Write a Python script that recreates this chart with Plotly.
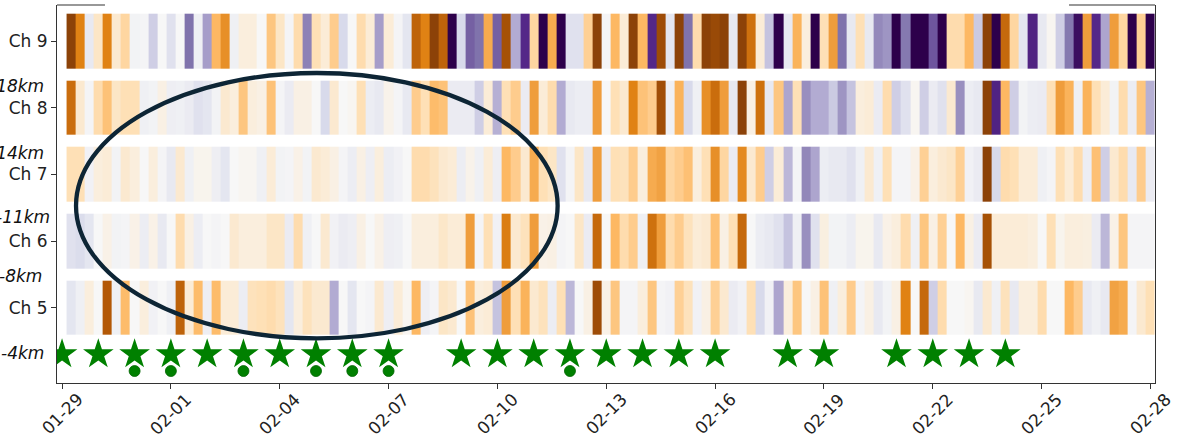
import pandas as pd
import plotly.graph_objects as go

# 6-hourly anomaly index per channel (negative = orange, positive = purple)
ch9 = [-0.95, -0.6, 0.1, -0.15, -0.6, -0.12, -0.25, 0.03, 0.02, 0.25, 0.0, 0.15, 0.0, 0.6, 0.05, 0.45, -0.4, -0.55, 0.05, -0.08, -0.08, 0.0, -0.33, -0.15, 0.02, -0.22, 0.55, -0.2, -0.1, -0.3,
       0.2, 0.0, -0.22, -0.1, 0.45, -0.1, 0.02, 0.12, -0.75, -0.6, -0.95, -0.75, 1.0, 0.2, 0.65, 0.6, -0.45, 0.65, -0.85, 0.4, 0.8, -0.25, 1.0, -0.45, 1.0, 0.15, 0.15, -0.28, -0.95, 0.02,
       -0.4, -0.1, -0.95, -0.4, 0.8, -0.88, 0.12, -0.95, 0.6, -0.22, -0.95, -0.9, -0.95, 0.1, -0.95, -0.68, -0.1, 0.3, 1.0, 0.1, -0.42, -0.08, 1.0, -0.2, -0.5, 0.6, 0.1, -0.2, 0.1, 0.52,
       0.48, 1.0, 0.58, 1.0, 1.0, 0.68, 1.0, -0.22, -0.22, -0.4, 0.27, -0.95, 1.0, -0.72, -0.25, 0.12, 0.82, 0.1, -0.02, 0.25, 0.58, 0.93, -0.5, 0.8, 0.42, -0.5, -0.25, 1.0, -0.28, 1.0]
ch8 = [-0.7, -0.12, 0.02, -0.22, -0.35, -0.15, -0.2, -0.2, 0.05, 0.03, -0.06, 0.06, 0.05, 0.08, 0.15, 0.12, 0.03, -0.12, -0.08, -0.33, -0.08, -0.06, -0.35, 0.02, 0.08, -0.06, -0.06, 0.0, 0.2, -0.12,
       0.0, -0.02, -0.2, 0.07, 0.1, -0.04, 0.02, 0.1, -0.3, -0.2, -0.38, -0.35, 0.08, 0.08, 0.08, 0.25, -0.1, 0.38, -0.2, -0.3, 0.08, -0.5, -0.1, -0.22, 0.4, 0.1, 0.07, 0.07, -0.5, 0.0,
       -0.2, -0.12, -0.6, -0.35, -0.3, -0.87, 0.05, -0.42, 0.2, 0.05, -0.55, -0.7, -0.5, 0.1, -0.95, -0.06, -0.68, 0.1, -0.33, 0.42, -0.2, 0.5, 0.4, 0.4, 0.27, 0.48, 0.3, -0.08, -0.1, 0.08,
       -0.22, 0.25, 0.15, -0.02, 0.25, 0.08, 0.15, -0.12, 0.5, 0.07, 0.1, -0.95, 0.82, -0.4, 0.25, 0.03, 0.07, 0.08, -0.2, -0.5, -0.42, 0.05, -0.42, -0.2, -0.1, 0.03, -0.22, 0.07, -0.33, 0.38]
ch7 = [-0.2, -0.2, 0.04, -0.08, -0.1, 0.03, -0.12, -0.08, 0.0, -0.08, 0.02, 0.1, -0.12, 0.05, -0.03, -0.03, 0.06, 0.12, 0.0, -0.02, -0.02, 0.05, -0.1, 0.03, 0.02, -0.05, 0.03, -0.12, -0.1, -0.06,
       0.02, 0.07, -0.06, 0.06, -0.08, 0.07, 0.04, 0.0, -0.22, -0.22, -0.18, -0.12, -0.1, 0.07, -0.04, 0.05, -0.1, 0.06, -0.4, -0.3, -0.12, -0.45, -0.2, -0.15, 0.15, 0.02, -0.15, 0.1, -0.5, 0.06,
       -0.2, -0.18, -0.3, -0.08, -0.45, -0.48, -0.25, -0.3, -0.36, -0.08, -0.2, -0.55, -0.25, 0.08, -0.57, -0.12, -0.3, 0.25, -0.1, 0.35, 0.02, 0.53, 0.42, 0.07, 0.1, 0.1, 0.15, 0.05, -0.12, 0.05,
       -0.2, 0.02, 0.02, -0.05, -0.28, -0.08, -0.12, -0.15, -0.28, 0.04, 0.08, -0.95, 0.2, -0.22, -0.2, -0.1, -0.1, 0.05, 0.02, -0.2, -0.1, -0.22, 0.07, -0.36, 0.25, -0.12, -0.22, 0.1, -0.3, 0.08]
ch6 = [0.15, 0.18, 0.12, 0.0, -0.05, 0.03, 0.02, -0.05, 0.07, -0.05, 0.1, 0.0, -0.22, -0.06, 0.07, 0.0, 0.02, 0.0, -0.12, -0.08, -0.08, -0.08, -0.15, -0.15, 0.08, -0.22, 0.05, 0.0, -0.12, 0.04,
       0.08, 0.06, -0.06, 0.0, -0.05, 0.06, 0.05, 0.0, -0.08, -0.08, -0.08, -0.14, -0.1, -0.1, -0.5, 0.02, -0.2, 0.04, -0.62, -0.12, -0.18, -0.5, -0.05, -0.06, 0.02, 0.0, -0.15, 0.08, -0.72, 0.0,
       -0.4, -0.22, -0.3, 0.05, -0.68, -0.5, -0.22, -0.3, -0.18, -0.1, -0.12, -0.36, -0.06, -0.2, -0.72, 0.0, 0.07, 0.1, 0.15, 0.3, 0.05, 0.5, 0.15, -0.07, 0.03, 0.03, 0.07, -0.03, -0.03, 0.1,
       -0.05, -0.08, -0.22, 0.05, -0.33, -0.06, -0.28, 0.0, -0.4, -0.06, 0.08, -0.85, -0.1, -0.1, -0.1, -0.1, -0.08, 0.0, -0.2, -0.03, -0.08, -0.08, -0.07, 0.08, 0.35, -0.05, -0.33, 0.02, 0.02, 0.02]
ch5 = [0.12, 0.05, -0.08, 0.0, -0.8, 0.05, -0.38, 0.0, -0.08, 0.04, 0.0, 0.05, -0.75, -0.1, -0.38, 0.06, -0.38, -0.1, -0.1, 0.07, -0.18, -0.2, -0.22, -0.18, 0.12, -0.08, -0.18, -0.12, -0.12, 0.4,
       0.0, 0.12, 0.0, 0.02, -0.12, 0.06, -0.1, -0.02, -0.4, 0.06, 0.02, -0.15, -0.12, 0.0, -0.35, -0.08, -0.1, 0.3, -0.5, -0.2, -0.42, -0.12, -0.18, 0.07, -0.2, 0.35, 0.0, -0.06, -0.88, -0.05,
       -0.33, 0.02, 0.02, -0.08, -0.33, 0.02, 0.04, -0.28, -0.18, 0.04, -0.06, -0.28, -0.12, 0.08, 0.04, -0.2, 0.2, 0.04, 0.42, -0.08, -0.33, 0.0, -0.06, -0.35, 0.05, -0.08, -0.3, 0.02, -0.06, 0.1,
       0.03, -0.06, -0.6, 0.0, -0.72, 0.25, -0.22, 0.0, 0.0, -0.02, 0.1, -0.12, 0.05, -0.18, 0.1, -0.08, -0.08, -0.22, 0.0, 0.0, -0.4, -0.3, 0.1, 0.05, 0.1, -0.48, -0.45, 0.02, -0.12, -0.2]

channels = [5, 6, 7, 8, 9]
channel_labels = ["Ch 5", "Ch 6", "Ch 7", "Ch 8", "Ch 9"]

# Daily event markers
star_days = ["01-29", "01-30", "01-31", "02-01", "02-02", "02-03", "02-04", "02-05", "02-06", "02-07",
             "02-09", "02-10", "02-11", "02-12", "02-13", "02-14", "02-15", "02-16",
             "02-18", "02-19", "02-21", "02-22", "02-23", "02-24"]
dot_days = ["01-31", "02-01", "02-03", "02-05", "02-06", "02-07", "02-12"]

# Depth labels on the left margin
depth_labels = ["-18km", "-14km", "-11km", "-8km", "-4km"]
depth_y = [8.32, 7.32, 6.36, 5.47, 4.32]
depth_shift = [-11, -11, -5, -13, -11]

tick_days = ["01-29", "02-01", "02-04", "02-07", "02-10", "02-13", "02-16", "02-19", "02-22", "02-25", "02-28"]

YEAR = "2021"
times = pd.date_range(f"{YEAR}-01-29 06:00", periods=len(ch9), freq="6h")

puor = [[0.0, "#7f3b08"], [0.1, "#b35806"], [0.2, "#e08214"], [0.3, "#fdb863"],
        [0.4, "#fee0b6"], [0.5, "#f7f7f7"], [0.6, "#d8daeb"], [0.7, "#b2abd2"],
        [0.8, "#8073ac"], [0.9, "#542788"], [1.0, "#2d004b"]]

fig = go.Figure()
fig.add_trace(go.Heatmap(
    x=times, y=channels, z=[ch5, ch6, ch7, ch8, ch9],
    colorscale=puor, zmin=-1, zmax=1, showscale=False,
    ygap=12, hoverinfo="skip",
))

fig.add_trace(go.Scatter(
    x=pd.to_datetime([f"{YEAR}-{d}" for d in star_days]), y=[4.30] * len(star_days),
    mode="markers", marker=dict(symbol="star", size=23, color="#008000", line=dict(width=0)),
    showlegend=False, hoverinfo="skip",
))
fig.add_trace(go.Scatter(
    x=pd.to_datetime([f"{YEAR}-{d}" for d in dot_days]), y=[4.05] * len(dot_days),
    mode="markers", marker=dict(symbol="circle", size=11, color="#008000", line=dict(width=0.8, color="#006400")),
    showlegend=False, hoverinfo="skip",
))

tick_dates = [f"{YEAR}-{d}" for d in tick_days]

fig.update_layout(
    width=1178, height=440,
    margin=dict(l=57, r=23, t=5, b=57),
    paper_bgcolor="white", plot_bgcolor="white",
    font=dict(family="DejaVu Sans", color="#222222"),
    showlegend=False,
    xaxis=dict(
        type="date", range=[f"{YEAR}-01-28 20:40", f"{YEAR}-02-28 03:00"],
        tickvals=tick_dates, showticklabels=False,
        ticks="outside", ticklen=5, tickcolor="#333333",
        showline=True, linecolor="#333333", linewidth=1.2,
        showgrid=False, zeroline=False,
    ),
    yaxis=dict(
        range=[3.87, 9.54], tickvals=channels, ticktext=channel_labels,
        tickfont=dict(size=17, color="#222222"),
        ticks="outside", ticklen=5, tickcolor="#333333",
        showline=True, mirror=True, linecolor="#333333", linewidth=1.2,
        showgrid=False, zeroline=False,
    ),
)

# Rotated date labels centred under each tick
for d, lab in zip(tick_dates, tick_days):
    fig.add_annotation(x=d, y=0, xref="x", yref="paper", text=lab, showarrow=False,
                       textangle=-45, xanchor="center", yanchor="top", yshift=-4,
                       font=dict(size=17, color="#222222"))

# Depth labels
for lab, yy, sh in zip(depth_labels, depth_y, depth_shift):
    fig.add_annotation(x=0, y=yy, xref="paper", yref="y", text=f"<i>{lab}</i>", showarrow=False,
                       xanchor="right", yanchor="middle", xshift=sh,
                       font=dict(size=17, color="#111111"))

# Partial top frame
fig.add_shape(type="line", xref="paper", yref="paper", x0=0, x1=0.0437, y0=1, y1=1,
              line=dict(color="#333333", width=1.2))
fig.add_shape(type="line", xref="paper", yref="paper", x0=0.9217, x1=1, y0=1, y1=1,
              line=dict(color="#333333", width=1.2))

# Highlighted period
fig.add_shape(type="circle", xref="x", yref="y",
              x0=f"{YEAR}-01-29 09:15", x1=f"{YEAR}-02-11 15:50", y0=4.54, y1=8.52,
              line=dict(color="#0d2535", width=4.3), layer="above")

fig.write_html("out.html")
